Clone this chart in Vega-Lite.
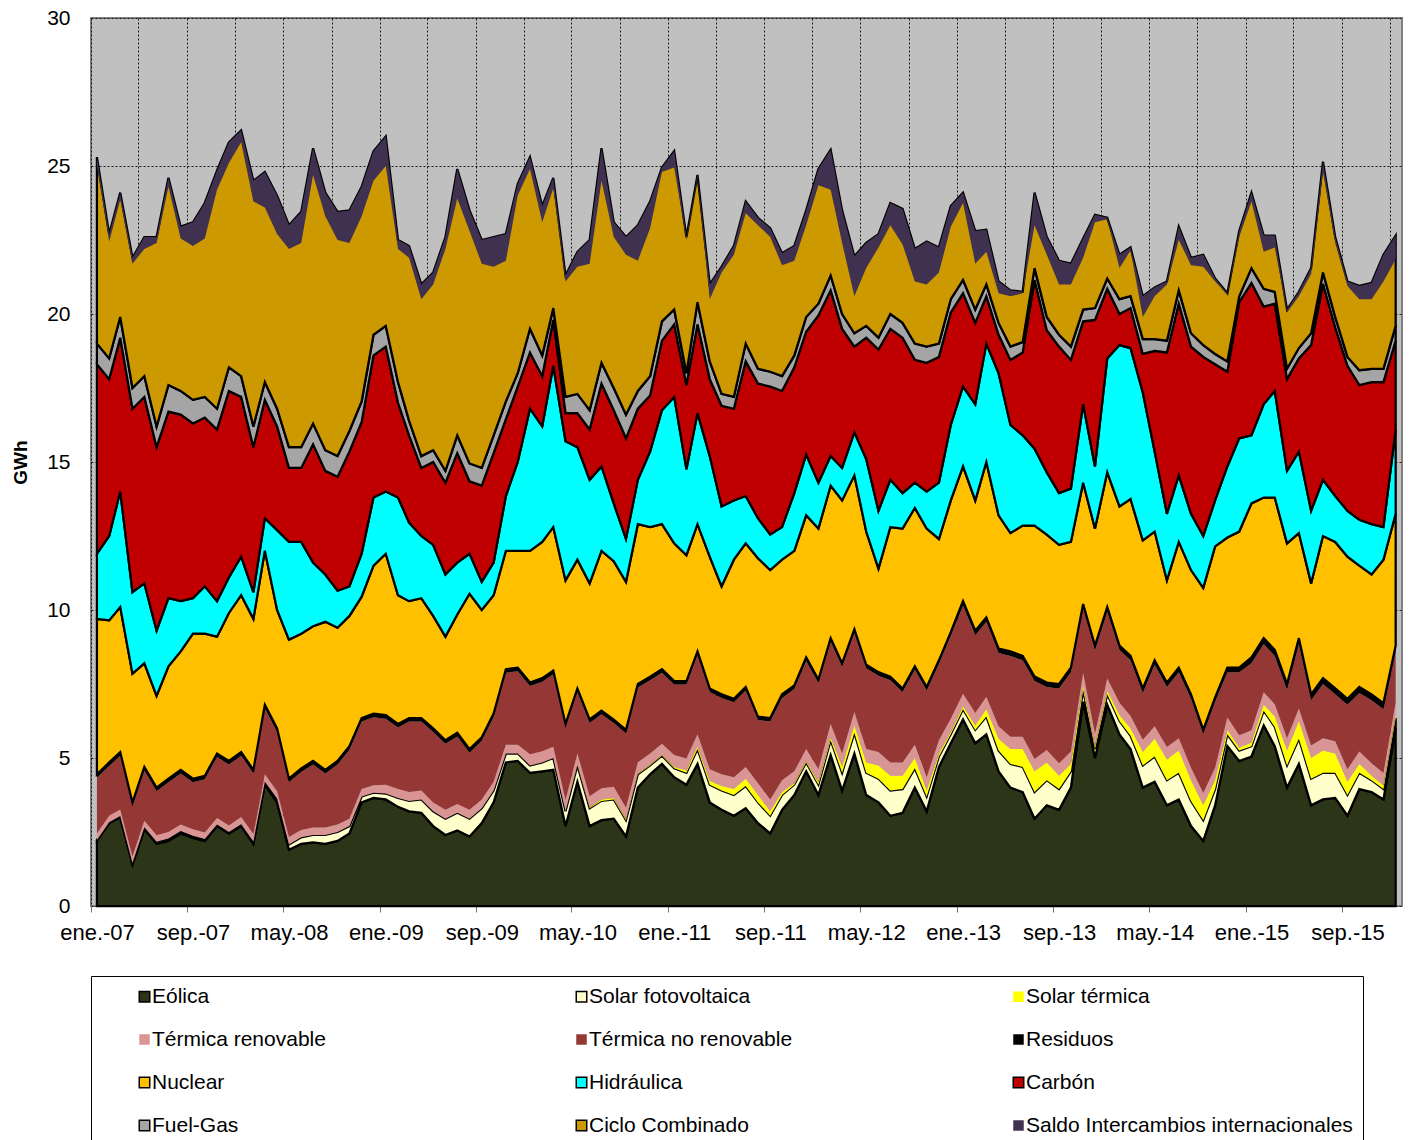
{
  "$schema": "https://vega.github.io/schema/vega-lite/v6.json",
  "width": 1311,
  "height": 888,
  "autosize": {"type": "none"},
  "padding": {"left": 91, "top": 18, "right": 9, "bottom": 234},
  "background": "white",
  "config": {
    "font": "Liberation Sans",
    "view": {"fill": "#C0C0C0", "stroke": "#808080", "strokeWidth": 2}
  },
  "data": {"values": [
      {"m":"2007-01-16","e":2.2,"pv":0.03,"st":0,"tr":0.22,"tn":1.88,"rs":0.12,"nu":5.25,"hi":2.2,"ca":6.4,"fg":0.7,"cc":6.3,"si":-0.3},
      {"m":"2007-02-16","e":2.8,"pv":0.03,"st":0,"tr":0.22,"tn":1.68,"rs":0.12,"nu":4.8,"hi":2.85,"ca":5.3,"fg":0.7,"cc":4.2,"si":-0.25},
      {"m":"2007-03-16","e":3.0,"pv":0.04,"st":0,"tr":0.22,"tn":1.82,"rs":0.12,"nu":4.9,"hi":3.9,"ca":5.2,"fg":0.7,"cc":4.2,"si":-0.25},
      {"m":"2007-04-16","e":1.4,"pv":0.05,"st":0,"tr":0.22,"tn":1.71,"rs":0.12,"nu":4.35,"hi":2.75,"ca":6.2,"fg":0.7,"cc":4.4,"si":-0.2},
      {"m":"2007-05-16","e":2.6,"pv":0.06,"st":0,"tr":0.22,"tn":1.7,"rs":0.12,"nu":3.5,"hi":2.7,"ca":6.3,"fg":0.7,"cc":4.7,"si":-0.4},
      {"m":"2007-06-16","e":2.1,"pv":0.07,"st":0,"tr":0.22,"tn":1.49,"rs":0.12,"nu":3.1,"hi":2.2,"ca":6.2,"fg":0.7,"cc":6.4,"si":-0.2},
      {"m":"2007-07-16","e":2.2,"pv":0.08,"st":0,"tr":0.22,"tn":1.68,"rs":0.12,"nu":3.8,"hi":2.3,"ca":6.3,"fg":0.9,"cc":7.0,"si":-0.3},
      {"m":"2007-08-16","e":2.45,"pv":0.08,"st":0,"tr":0.22,"tn":1.73,"rs":0.12,"nu":4.0,"hi":1.7,"ca":6.3,"fg":0.8,"cc":5.55,"si":-0.4},
      {"m":"2007-09-16","e":2.3,"pv":0.07,"st":0,"tr":0.22,"tn":1.59,"rs":0.12,"nu":4.9,"hi":1.2,"ca":5.9,"fg":0.8,"cc":6.0,"si":-0.8},
      {"m":"2007-10-16","e":2.2,"pv":0.06,"st":0,"tr":0.22,"tn":1.8,"rs":0.12,"nu":4.8,"hi":1.6,"ca":5.7,"fg":0.7,"cc":6.55,"si":-1.2},
      {"m":"2007-11-16","e":2.7,"pv":0.05,"st":0,"tr":0.22,"tn":2.06,"rs":0.12,"nu":3.95,"hi":1.2,"ca":5.8,"fg":0.7,"cc":8.05,"si":-0.65},
      {"m":"2007-12-16","e":2.45,"pv":0.05,"st":0,"tr":0.22,"tn":2.06,"rs":0.12,"nu":5.0,"hi":1.2,"ca":6.3,"fg":0.8,"cc":7.6,"si":-0.7},
      {"m":"2008-01-16","e":2.7,"pv":0.06,"st":0,"tr":0.25,"tn":2.07,"rs":0.12,"nu":5.3,"hi":1.3,"ca":5.4,"fg":0.7,"cc":8.3,"si":-0.4},
      {"m":"2008-02-16","e":2.1,"pv":0.08,"st":0,"tr":0.25,"tn":2.05,"rs":0.12,"nu":5.1,"hi":0.9,"ca":4.9,"fg":0.7,"cc":8.3,"si":-0.7},
      {"m":"2008-03-16","e":4.1,"pv":0.1,"st":0,"tr":0.25,"tn":2.23,"rs":0.12,"nu":5.2,"hi":1.1,"ca":4.0,"fg":0.6,"cc":7.1,"si":-1.2},
      {"m":"2008-04-16","e":3.5,"pv":0.13,"st":0,"tr":0.25,"tn":2.0,"rs":0.12,"nu":4.0,"hi":2.7,"ca":3.5,"fg":0.6,"cc":7.2,"si":-1.3},
      {"m":"2008-05-16","e":1.9,"pv":0.18,"st":0,"tr":0.25,"tn":1.85,"rs":0.12,"nu":4.7,"hi":3.3,"ca":2.5,"fg":0.7,"cc":7.5,"si":-0.8},
      {"m":"2008-06-16","e":2.1,"pv":0.22,"st":0,"tr":0.25,"tn":1.96,"rs":0.12,"nu":4.55,"hi":3.1,"ca":2.5,"fg":0.7,"cc":7.95,"si":-1.05},
      {"m":"2008-07-16","e":2.15,"pv":0.25,"st":0,"tr":0.25,"tn":2.13,"rs":0.12,"nu":4.55,"hi":2.15,"ca":4.0,"fg":0.7,"cc":9.3,"si":-0.9},
      {"m":"2008-08-16","e":2.1,"pv":0.3,"st":0,"tr":0.25,"tn":1.83,"rs":0.12,"nu":5.0,"hi":1.6,"ca":3.5,"fg":0.7,"cc":8.7,"si":-0.8},
      {"m":"2008-09-16","e":2.2,"pv":0.3,"st":0,"tr":0.25,"tn":2.03,"rs":0.12,"nu":4.5,"hi":1.25,"ca":3.85,"fg":0.7,"cc":8.25,"si":-0.95},
      {"m":"2008-10-16","e":2.45,"pv":0.25,"st":0,"tr":0.25,"tn":2.33,"rs":0.12,"nu":4.4,"hi":1.0,"ca":4.55,"fg":0.7,"cc":7.45,"si":-1.1},
      {"m":"2008-11-16","e":3.5,"pv":0.2,"st":0,"tr":0.25,"tn":2.28,"rs":0.12,"nu":4.1,"hi":1.45,"ca":4.45,"fg":0.7,"cc":7.25,"si":-1.0},
      {"m":"2008-12-16","e":3.65,"pv":0.18,"st":0,"tr":0.25,"tn":2.3,"rs":0.12,"nu":5.0,"hi":2.3,"ca":4.8,"fg":0.7,"cc":6.2,"si":-1.0},
      {"m":"2009-01-16","e":3.6,"pv":0.2,"st":0,"tr":0.3,"tn":2.23,"rs":0.12,"nu":5.45,"hi":2.1,"ca":4.9,"fg":0.7,"cc":6.4,"si":-1.0},
      {"m":"2009-02-16","e":3.35,"pv":0.3,"st":0,"tr":0.3,"tn":2.08,"rs":0.12,"nu":4.35,"hi":3.3,"ca":3.2,"fg":0.7,"cc":4.8,"si":-0.3},
      {"m":"2009-03-16","e":3.2,"pv":0.35,"st":0,"tr":0.3,"tn":2.38,"rs":0.12,"nu":3.95,"hi":2.65,"ca":2.95,"fg":0.5,"cc":5.9,"si":-0.4},
      {"m":"2009-04-16","e":3.15,"pv":0.45,"st":0,"tr":0.3,"tn":2.33,"rs":0.12,"nu":4.05,"hi":2.1,"ca":2.3,"fg":0.4,"cc":5.8,"si":-0.5},
      {"m":"2009-05-16","e":2.7,"pv":0.5,"st":0,"tr":0.3,"tn":2.38,"rs":0.12,"nu":3.8,"hi":2.4,"ca":2.8,"fg":0.4,"cc":6.0,"si":-0.4},
      {"m":"2009-06-16","e":2.4,"pv":0.55,"st":0,"tr":0.3,"tn":2.23,"rs":0.12,"nu":3.5,"hi":2.1,"ca":3.1,"fg":0.4,"cc":7.9,"si":-0.4},
      {"m":"2009-07-16","e":2.55,"pv":0.6,"st":0,"tr":0.3,"tn":2.28,"rs":0.12,"nu":4.0,"hi":1.75,"ca":3.7,"fg":0.6,"cc":9.0,"si":-1.0},
      {"m":"2009-08-16","e":2.35,"pv":0.6,"st":0,"tr":0.3,"tn":1.93,"rs":0.12,"nu":5.25,"hi":1.35,"ca":2.45,"fg":0.6,"cc":8.55,"si":-0.7},
      {"m":"2009-09-16","e":2.8,"pv":0.5,"st":0,"tr":0.3,"tn":1.98,"rs":0.12,"nu":4.3,"hi":0.95,"ca":3.25,"fg":0.6,"cc":7.7,"si":-0.8},
      {"m":"2009-10-16","e":3.5,"pv":0.4,"st":0,"tr":0.3,"tn":2.18,"rs":0.12,"nu":4.0,"hi":1.1,"ca":3.7,"fg":0.6,"cc":6.7,"si":-1.0},
      {"m":"2009-11-16","e":4.85,"pv":0.3,"st":0,"tr":0.3,"tn":2.43,"rs":0.12,"nu":4.0,"hi":1.85,"ca":2.6,"fg":0.6,"cc":5.65,"si":-0.9},
      {"m":"2009-12-16","e":4.9,"pv":0.25,"st":0,"tr":0.3,"tn":2.48,"rs":0.12,"nu":3.95,"hi":3.0,"ca":2.55,"fg":0.45,"cc":6.4,"si":-0.4},
      {"m":"2010-01-16","e":4.5,"pv":0.25,"st":0,"tr":0.38,"tn":2.3,"rs":0.12,"nu":4.45,"hi":4.8,"ca":1.9,"fg":0.8,"cc":5.8,"si":-0.4},
      {"m":"2010-02-16","e":4.55,"pv":0.3,"st":0,"tr":0.38,"tn":2.35,"rs":0.12,"nu":4.6,"hi":3.9,"ca":1.7,"fg":0.7,"cc":5.05,"si":-0.55},
      {"m":"2010-03-16","e":4.6,"pv":0.4,"st":0,"tr":0.38,"tn":2.45,"rs":0.12,"nu":4.85,"hi":5.45,"ca":1.55,"fg":0.4,"cc":4.4,"si":-0.35},
      {"m":"2010-04-16","e":2.7,"pv":0.5,"st":0,"tr":0.38,"tn":2.45,"rs":0.12,"nu":4.85,"hi":4.7,"ca":0.95,"fg":0.55,"cc":4.1,"si":-0.2},
      {"m":"2010-05-16","e":4.2,"pv":0.55,"st":0.02,"tr":0.38,"tn":2.08,"rs":0.12,"nu":4.35,"hi":3.8,"ca":1.15,"fg":0.65,"cc":4.8,"si":-0.5},
      {"m":"2010-06-16","e":2.7,"pv":0.6,"st":0.03,"tr":0.38,"tn":2.47,"rs":0.12,"nu":4.6,"hi":3.5,"ca":1.7,"fg":0.65,"cc":5.75,"si":-0.8},
      {"m":"2010-07-16","e":2.9,"pv":0.65,"st":0.05,"tr":0.38,"tn":2.5,"rs":0.12,"nu":5.4,"hi":2.85,"ca":2.8,"fg":0.7,"cc":7.25,"si":-1.1},
      {"m":"2010-08-16","e":2.95,"pv":0.65,"st":0.05,"tr":0.38,"tn":2.15,"rs":0.12,"nu":5.35,"hi":1.95,"ca":3.15,"fg":0.75,"cc":5.6,"si":-0.5},
      {"m":"2010-09-16","e":2.35,"pv":0.55,"st":0.04,"tr":0.38,"tn":2.51,"rs":0.12,"nu":5.0,"hi":1.45,"ca":3.4,"fg":0.8,"cc":6.0,"si":-0.6},
      {"m":"2010-10-16","e":4.0,"pv":0.45,"st":0.03,"tr":0.38,"tn":2.52,"rs":0.12,"nu":5.4,"hi":1.5,"ca":2.4,"fg":0.6,"cc":5.6,"si":-1.2},
      {"m":"2010-11-16","e":4.45,"pv":0.3,"st":0.02,"tr":0.38,"tn":2.48,"rs":0.12,"nu":5.05,"hi":2.55,"ca":1.9,"fg":0.65,"cc":5.9,"si":-0.9},
      {"m":"2010-12-16","e":4.8,"pv":0.28,"st":0.02,"tr":0.38,"tn":2.4,"rs":0.12,"nu":4.9,"hi":3.85,"ca":2.35,"fg":0.65,"cc":5.2,"si":-0.15},
      {"m":"2011-01-16","e":4.35,"pv":0.3,"st":0.05,"tr":0.4,"tn":2.38,"rs":0.12,"nu":4.65,"hi":4.95,"ca":2.45,"fg":0.5,"cc":5.35,"si":-0.55},
      {"m":"2011-02-16","e":4.1,"pv":0.4,"st":0.08,"tr":0.4,"tn":2.5,"rs":0.12,"nu":4.25,"hi":2.9,"ca":2.85,"fg":0.4,"cc":4.6,"si":-0.1},
      {"m":"2011-03-16","e":4.8,"pv":0.5,"st":0.1,"tr":0.4,"tn":2.68,"rs":0.12,"nu":4.3,"hi":3.75,"ca":3.0,"fg":0.75,"cc":4.3,"si":-0.1},
      {"m":"2011-04-16","e":3.5,"pv":0.6,"st":0.12,"tr":0.4,"tn":2.61,"rs":0.12,"nu":4.45,"hi":3.4,"ca":2.6,"fg":0.6,"cc":2.6,"si":-0.5},
      {"m":"2011-05-16","e":3.25,"pv":0.65,"st":0.15,"tr":0.4,"tn":2.58,"rs":0.12,"nu":3.65,"hi":2.7,"ca":3.4,"fg":0.4,"cc":4.3,"si":-0.2},
      {"m":"2011-06-16","e":3.05,"pv":0.7,"st":0.2,"tr":0.4,"tn":2.53,"rs":0.12,"nu":4.7,"hi":2.0,"ca":3.1,"fg":0.4,"cc":5.1,"si":-0.3},
      {"m":"2011-07-16","e":3.3,"pv":0.75,"st":0.25,"tr":0.4,"tn":2.58,"rs":0.12,"nu":4.85,"hi":1.6,"ca":4.55,"fg":0.6,"cc":4.8,"si":-0.4},
      {"m":"2011-08-16","e":2.8,"pv":0.7,"st":0.25,"tr":0.4,"tn":2.13,"rs":0.12,"nu":5.35,"hi":1.35,"ca":4.55,"fg":0.5,"cc":5.1,"si":-0.25},
      {"m":"2011-09-16","e":2.45,"pv":0.6,"st":0.15,"tr":0.4,"tn":2.63,"rs":0.12,"nu":5.0,"hi":1.2,"ca":5.0,"fg":0.5,"cc":4.85,"si":-0.3},
      {"m":"2011-10-16","e":3.25,"pv":0.5,"st":0.1,"tr":0.4,"tn":2.78,"rs":0.12,"nu":4.55,"hi":1.1,"ca":4.6,"fg":0.5,"cc":4.15,"si":-0.4},
      {"m":"2011-11-16","e":3.75,"pv":0.35,"st":0.05,"tr":0.4,"tn":2.78,"rs":0.12,"nu":4.55,"hi":1.95,"ca":4.25,"fg":0.4,"cc":3.7,"si":-0.5},
      {"m":"2011-12-16","e":4.55,"pv":0.3,"st":0.05,"tr":0.4,"tn":2.98,"rs":0.12,"nu":4.8,"hi":2.05,"ca":4.15,"fg":0.5,"cc":3.6,"si":-0.5},
      {"m":"2012-01-16","e":3.75,"pv":0.35,"st":0.08,"tr":0.45,"tn":2.9,"rs":0.12,"nu":5.1,"hi":1.55,"ca":5.65,"fg":0.4,"cc":4.55,"si":-0.55},
      {"m":"2012-02-16","e":5.1,"pv":0.5,"st":0.1,"tr":0.45,"tn":2.78,"rs":0.12,"nu":5.15,"hi":1.0,"ca":5.6,"fg":0.5,"cc":4.25,"si":-1.35},
      {"m":"2012-03-16","e":3.9,"pv":0.6,"st":0.2,"tr":0.45,"tn":2.93,"rs":0.12,"nu":5.5,"hi":1.1,"ca":4.7,"fg":0.5,"cc":3.5,"si":-1.1},
      {"m":"2012-04-16","e":5.15,"pv":0.7,"st":0.25,"tr":0.45,"tn":2.68,"rs":0.12,"nu":5.2,"hi":1.45,"ca":2.9,"fg":0.45,"cc":2.6,"si":-1.35},
      {"m":"2012-05-16","e":3.75,"pv":0.75,"st":0.35,"tr":0.45,"tn":2.73,"rs":0.12,"nu":4.5,"hi":2.45,"ca":4.1,"fg":0.4,"cc":2.8,"si":-0.85},
      {"m":"2012-06-16","e":3.5,"pv":0.8,"st":0.45,"tr":0.45,"tn":2.58,"rs":0.12,"nu":3.5,"hi":1.95,"ca":5.45,"fg":0.4,"cc":3.5,"si":-0.45},
      {"m":"2012-07-16","e":3.05,"pv":0.85,"st":0.5,"tr":0.45,"tn":2.78,"rs":0.12,"nu":5.05,"hi":1.6,"ca":5.1,"fg":0.5,"cc":3.75,"si":-0.75},
      {"m":"2012-08-16","e":3.15,"pv":0.8,"st":0.45,"tr":0.45,"tn":2.38,"rs":0.12,"nu":5.4,"hi":1.2,"ca":5.25,"fg":0.5,"cc":3.85,"si":-1.2},
      {"m":"2012-09-16","e":4.0,"pv":0.65,"st":0.35,"tr":0.45,"tn":2.53,"rs":0.12,"nu":5.35,"hi":0.85,"ca":4.15,"fg":0.55,"cc":3.2,"si":-1.1},
      {"m":"2012-10-16","e":3.2,"pv":0.5,"st":0.2,"tr":0.45,"tn":2.93,"rs":0.12,"nu":5.35,"hi":1.25,"ca":4.35,"fg":0.55,"cc":3.55,"si":-1.45},
      {"m":"2012-11-16","e":4.7,"pv":0.35,"st":0.1,"tr":0.45,"tn":2.58,"rs":0.12,"nu":4.1,"hi":1.9,"ca":4.25,"fg":0.45,"cc":3.25,"si":-0.85},
      {"m":"2012-12-16","e":5.5,"pv":0.3,"st":0.08,"tr":0.45,"tn":2.8,"rs":0.12,"nu":4.45,"hi":2.55,"ca":3.8,"fg":0.45,"cc":3.15,"si":-0.7},
      {"m":"2013-01-16","e":6.3,"pv":0.35,"st":0.1,"tr":0.42,"tn":2.98,"rs":0.15,"nu":4.55,"hi":2.7,"ca":3.15,"fg":0.45,"cc":2.95,"si":-0.35},
      {"m":"2013-02-16","e":5.5,"pv":0.45,"st":0.15,"tr":0.42,"tn":2.63,"rs":0.15,"nu":4.4,"hi":3.25,"ca":2.75,"fg":0.45,"cc":2.65,"si":-1.1},
      {"m":"2013-03-16","e":5.8,"pv":0.6,"st":0.25,"tr":0.42,"tn":2.53,"rs":0.15,"nu":5.25,"hi":4.0,"ca":1.6,"fg":0.4,"cc":1.85,"si":-0.75},
      {"m":"2013-04-16","e":4.55,"pv":0.7,"st":0.4,"tr":0.42,"tn":2.48,"rs":0.15,"nu":4.5,"hi":4.8,"ca":1.3,"fg":0.4,"cc":1.4,"si":-0.4},
      {"m":"2013-05-16","e":4.0,"pv":0.8,"st":0.5,"tr":0.42,"tn":2.73,"rs":0.15,"nu":4.0,"hi":3.65,"ca":2.2,"fg":0.45,"cc":1.9,"si":-0.2},
      {"m":"2013-06-16","e":3.85,"pv":0.85,"st":0.6,"tr":0.42,"tn":2.58,"rs":0.15,"nu":4.4,"hi":3.05,"ca":2.8,"fg":0.35,"cc":1.7,"si":-0.05},
      {"m":"2013-07-16","e":2.95,"pv":0.9,"st":0.7,"tr":0.42,"tn":2.63,"rs":0.15,"nu":5.1,"hi":2.6,"ca":5.7,"fg":0.4,"cc":2.55,"si":-1.1},
      {"m":"2013-08-16","e":3.4,"pv":0.85,"st":0.6,"tr":0.42,"tn":2.13,"rs":0.15,"nu":5.0,"hi":2.1,"ca":4.8,"fg":0.45,"cc":2.7,"si":-0.6},
      {"m":"2013-09-16","e":3.25,"pv":0.7,"st":0.45,"tr":0.42,"tn":2.53,"rs":0.15,"nu":4.7,"hi":1.75,"ca":4.95,"fg":0.4,"cc":2.5,"si":-0.8},
      {"m":"2013-10-16","e":4.0,"pv":0.55,"st":0.25,"tr":0.42,"tn":2.68,"rs":0.15,"nu":4.25,"hi":1.8,"ca":4.35,"fg":0.45,"cc":2.8,"si":-0.7},
      {"m":"2013-11-16","e":6.9,"pv":0.4,"st":0.15,"tr":0.42,"tn":2.18,"rs":0.15,"nu":4.1,"hi":2.65,"ca":2.8,"fg":0.4,"cc":2.4,"si":-0.65},
      {"m":"2013-12-16","e":5.0,"pv":0.3,"st":0.1,"tr":0.42,"tn":2.83,"rs":0.15,"nu":3.95,"hi":2.1,"ca":4.95,"fg":0.4,"cc":3.15,"si":-0.25},
      {"m":"2014-01-16","e":6.8,"pv":0.35,"st":0.12,"tr":0.42,"tn":2.26,"rs":0.15,"nu":4.55,"hi":3.85,"ca":2.35,"fg":0.35,"cc":2.05,"si":-0.05},
      {"m":"2014-02-16","e":5.8,"pv":0.45,"st":0.2,"tr":0.42,"tn":1.78,"rs":0.15,"nu":4.7,"hi":5.45,"ca":1.05,"fg":0.5,"cc":1.5,"si":-0.45},
      {"m":"2014-03-16","e":5.3,"pv":0.45,"st":0.25,"tr":0.42,"tn":1.88,"rs":0.15,"nu":5.3,"hi":5.1,"ca":1.35,"fg":0.4,"cc":1.65,"si":-0.1},
      {"m":"2014-04-16","e":4.0,"pv":0.75,"st":0.45,"tr":0.42,"tn":1.58,"rs":0.15,"nu":5.0,"hi":5.0,"ca":1.3,"fg":0.5,"cc":1.45,"si":-0.7},
      {"m":"2014-05-16","e":4.2,"pv":0.85,"st":0.6,"tr":0.42,"tn":2.08,"rs":0.15,"nu":4.35,"hi":2.7,"ca":3.4,"fg":0.4,"cc":1.75,"si":-0.3},
      {"m":"2014-06-16","e":3.4,"pv":0.85,"st":0.7,"tr":0.42,"tn":2.03,"rs":0.15,"nu":3.45,"hi":2.25,"ca":5.45,"fg":0.4,"cc":2.0,"si":-0.1},
      {"m":"2014-07-16","e":3.6,"pv":0.9,"st":0.75,"tr":0.42,"tn":2.23,"rs":0.15,"nu":4.25,"hi":2.25,"ca":5.8,"fg":0.45,"cc":2.15,"si":-0.45},
      {"m":"2014-08-16","e":2.7,"pv":0.85,"st":0.7,"tr":0.42,"tn":2.33,"rs":0.15,"nu":4.2,"hi":1.9,"ca":5.65,"fg":0.45,"cc":2.55,"si":-0.25},
      {"m":"2014-09-16","e":2.2,"pv":0.7,"st":0.5,"tr":0.42,"tn":1.98,"rs":0.15,"nu":4.8,"hi":1.75,"ca":6.05,"fg":0.4,"cc":3.05,"si":-0.4},
      {"m":"2014-10-16","e":3.4,"pv":0.55,"st":0.3,"tr":0.42,"tn":2.23,"rs":0.15,"nu":5.1,"hi":1.55,"ca":4.6,"fg":0.35,"cc":2.55,"si":-0.1},
      {"m":"2014-11-16","e":5.4,"pv":0.4,"st":0.15,"tr":0.42,"tn":1.53,"rs":0.15,"nu":4.4,"hi":2.4,"ca":3.2,"fg":0.35,"cc":2.3,"si":-0.05},
      {"m":"2014-12-16","e":4.9,"pv":0.35,"st":0.1,"tr":0.42,"tn":2.13,"rs":0.15,"nu":4.6,"hi":3.15,"ca":4.6,"fg":0.2,"cc":2.2,"si":-0.2},
      {"m":"2015-01-16","e":5.05,"pv":0.35,"st":0.12,"tr":0.42,"tn":2.26,"rs":0.2,"nu":5.2,"hi":2.3,"ca":5.15,"fg":0.5,"cc":2.55,"si":-0.3},
      {"m":"2015-02-16","e":6.1,"pv":0.5,"st":0.2,"tr":0.42,"tn":1.63,"rs":0.2,"nu":4.75,"hi":3.15,"ca":3.3,"fg":0.6,"cc":1.8,"si":-0.55},
      {"m":"2015-03-16","e":5.4,"pv":0.65,"st":0.35,"tr":0.42,"tn":1.63,"rs":0.2,"nu":5.15,"hi":3.6,"ca":2.95,"fg":0.4,"cc":1.9,"si":-0.4},
      {"m":"2015-04-16","e":4.0,"pv":0.75,"st":0.5,"tr":0.42,"tn":1.63,"rs":0.2,"nu":4.75,"hi":2.45,"ca":3.1,"fg":0.35,"cc":2.0,"si":-0.1},
      {"m":"2015-05-16","e":4.8,"pv":0.85,"st":0.6,"tr":0.42,"tn":2.18,"rs":0.2,"nu":3.55,"hi":2.75,"ca":3.15,"fg":0.35,"cc":1.9,"si":-0.15},
      {"m":"2015-06-16","e":3.4,"pv":0.9,"st":0.7,"tr":0.42,"tn":1.53,"rs":0.2,"nu":3.75,"hi":2.45,"ca":5.6,"fg":0.4,"cc":2.2,"si":-0.2},
      {"m":"2015-07-16","e":3.6,"pv":0.9,"st":0.75,"tr":0.42,"tn":1.83,"rs":0.2,"nu":4.8,"hi":1.9,"ca":6.62,"fg":0.38,"cc":3.75,"si":-0.35},
      {"m":"2015-08-16","e":3.65,"pv":0.85,"st":0.65,"tr":0.42,"tn":1.58,"rs":0.2,"nu":4.95,"hi":1.55,"ca":5.7,"fg":0.35,"cc":2.7,"si":-0.2},
      {"m":"2015-09-16","e":3.05,"pv":0.7,"st":0.45,"tr":0.42,"tn":2.18,"rs":0.2,"nu":4.8,"hi":1.55,"ca":4.9,"fg":0.3,"cc":2.55,"si":-0.15},
      {"m":"2015-10-16","e":3.95,"pv":0.55,"st":0.3,"tr":0.42,"tn":1.98,"rs":0.2,"nu":4.1,"hi":1.55,"ca":4.55,"fg":0.5,"cc":2.85,"si":-0.45},
      {"m":"2015-11-16","e":3.85,"pv":0.4,"st":0.15,"tr":0.42,"tn":2.13,"rs":0.2,"nu":4.05,"hi":1.7,"ca":4.8,"fg":0.45,"cc":2.9,"si":-0.55},
      {"m":"2015-12-16","e":3.6,"pv":0.35,"st":0.12,"tr":0.42,"tn":2.16,"rs":0.2,"nu":4.85,"hi":1.1,"ca":4.9,"fg":0.45,"cc":3.85,"si":-0.9},
      {"m":"2016-01-16","e":6.0,"pv":0.35,"st":0.1,"tr":0.42,"tn":1.73,"rs":0.2,"nu":4.45,"hi":2.85,"ca":3.0,"fg":0.5,"cc":3.05,"si":-0.8}
  ]},
  "transform": [
    {"fold": ["e", "pv", "st", "tr", "tn", "rs", "nu", "hi", "ca", "fg", "cc", "si"], "as": ["k", "v"]},
    {"lookup": "k", "from": {"data": {"values": [
      {"k": "e", "name": "Eólica", "ord": 1},
      {"k": "pv", "name": "Solar fotovoltaica", "ord": 2},
      {"k": "st", "name": "Solar térmica", "ord": 3},
      {"k": "tr", "name": "Térmica renovable", "ord": 4},
      {"k": "tn", "name": "Térmica no renovable", "ord": 5},
      {"k": "rs", "name": "Residuos", "ord": 6},
      {"k": "nu", "name": "Nuclear", "ord": 7},
      {"k": "hi", "name": "Hidráulica", "ord": 8},
      {"k": "ca", "name": "Carbón", "ord": 9},
      {"k": "fg", "name": "Fuel-Gas", "ord": 10},
      {"k": "cc", "name": "Ciclo Combinado", "ord": 11},
      {"k": "si", "name": "Saldo Intercambios internacionales", "ord": 12}
    ]}, "key": "k", "fields": ["name", "ord"]}},
    {"window": [{"op": "sum", "field": "v", "as": "top"}], "groupby": ["m"], "sort": [{"field": "ord", "order": "ascending"}], "frame": [null, 0]},
    {"calculate": "datum.top - datum.v", "as": "base"}
  ],
  "mark": {"type": "area", "strokeWidth": 2.25},
  "encoding": {
    "x": {
      "field": "m", "type": "temporal",
      "scale": {"domain": [{"year": 2007, "month": 1, "date": 1}, {"year": 2016, "month": 2, "date": 1}]},
      "axis": {
        "title": null,
        "domain": false,
        "values": [
          {"year": 2007, "month": 1, "date": 1}, {"year": 2007, "month": 5, "date": 1}, {"year": 2007, "month": 9, "date": 1},
          {"year": 2008, "month": 1, "date": 1}, {"year": 2008, "month": 5, "date": 1}, {"year": 2008, "month": 9, "date": 1},
          {"year": 2009, "month": 1, "date": 1}, {"year": 2009, "month": 5, "date": 1}, {"year": 2009, "month": 9, "date": 1},
          {"year": 2010, "month": 1, "date": 1}, {"year": 2010, "month": 5, "date": 1}, {"year": 2010, "month": 9, "date": 1},
          {"year": 2011, "month": 1, "date": 1}, {"year": 2011, "month": 5, "date": 1}, {"year": 2011, "month": 9, "date": 1},
          {"year": 2012, "month": 1, "date": 1}, {"year": 2012, "month": 5, "date": 1}, {"year": 2012, "month": 9, "date": 1},
          {"year": 2013, "month": 1, "date": 1}, {"year": 2013, "month": 5, "date": 1}, {"year": 2013, "month": 9, "date": 1},
          {"year": 2014, "month": 1, "date": 1}, {"year": 2014, "month": 5, "date": 1}, {"year": 2014, "month": 9, "date": 1},
          {"year": 2015, "month": 1, "date": 1}, {"year": 2015, "month": 5, "date": 1}, {"year": 2015, "month": 9, "date": 1},
          {"year": 2016, "month": 1, "date": 1}
        ],
        "grid": true, "gridColor": "#000000", "gridDash": [2, 2], "gridWidth": 1, "gridOpacity": 0.85,
        "ticks": true, "tickSize": 6, "tickColor": "#707070",
        "tickOpacity": {"condition": {"test": "((year(datum.value)-2007)*12+month(datum.value))%8==0", "value": 1}, "value": 0},
        "labelExpr": "((year(datum.value)-2007)*12+month(datum.value))%8!=0 ? '' : (month(datum.value)==0 ? 'ene.' : (month(datum.value)==4 ? 'may.' : 'sep.')) + '-' + timeFormat(datum.value, '%y')",
        "labelOffset": 6, "labelFontSize": 22, "labelFont": "Liberation Sans", "labelColor": "#000000",
        "labelPadding": 10, "labelOverlap": false, "labelFlush": false
      }
    },
    "y": {
      "field": "top", "type": "quantitative", "stack": null,
      "scale": {"domain": [0, 30]},
      "axis": {
        "values": [0, 5, 10, 15, 20, 25, 30],
        "title": "GWh", "titleFontSize": 19, "titleFontWeight": "bold", "titleColor": "#000000", "titlePadding": 16,
        "domain": false, "ticks": false,
        "grid": true, "gridColor": "#000000", "gridDash": [2, 2], "gridWidth": 1, "gridOpacity": 0.85,
        "labelFontSize": 21, "labelColor": "#000000", "labelPadding": 21, "labelFlush": false
      }
    },
    "y2": {"field": "base"},
    "color": {
      "field": "name", "type": "nominal",
      "scale": {
        "domain": ["Eólica", "Solar fotovoltaica", "Solar térmica", "Térmica renovable", "Térmica no renovable", "Residuos", "Nuclear", "Hidráulica", "Carbón", "Fuel-Gas", "Ciclo Combinado", "Saldo Intercambios internacionales"],
        "range": ["#2D3519", "#FFFFCC", "#FFFF00", "#D99594", "#953735", "#000000", "#FFC000", "#00FFFF", "#C00000", "#A5A5A5", "#CC9900", "#403151"]
      },
      "legend": {"title": " ", "titleOrient": "left", "titleFontSize": 10, "titlePadding": 33, "orient": "bottom", "offset": 33, "padding": 10, "strokeColor": "#000000", "columns": 3, "gridAlign": "all", "labelFontSize": 21, "labelColor": "#000000", "labelLimit": 400, "labelOffset": -3, "symbolType": "square", "symbolSize": 110, "columnPadding": 92, "rowPadding": 21}
    },
    "stroke": {
      "field": "name", "type": "nominal",
      "scale": {
        "domain": ["Eólica", "Solar fotovoltaica", "Solar térmica", "Térmica renovable", "Térmica no renovable", "Residuos", "Nuclear", "Hidráulica", "Carbón", "Fuel-Gas", "Ciclo Combinado", "Saldo Intercambios internacionales"],
        "range": ["#000000", "#000000", "transparent", "transparent", "transparent", "transparent", "#000000", "#000000", "#000000", "#000000", "#000000", "transparent"]
      },
      "legend": {"title": " ", "titleOrient": "left", "titleFontSize": 10, "titlePadding": 33, "orient": "bottom", "offset": 33, "padding": 10, "strokeColor": "#000000", "columns": 3, "gridAlign": "all", "labelFontSize": 21, "labelColor": "#000000", "labelLimit": 400, "labelOffset": -3, "symbolType": "square", "symbolSize": 110, "columnPadding": 92, "rowPadding": 21}
    }
  }
}
